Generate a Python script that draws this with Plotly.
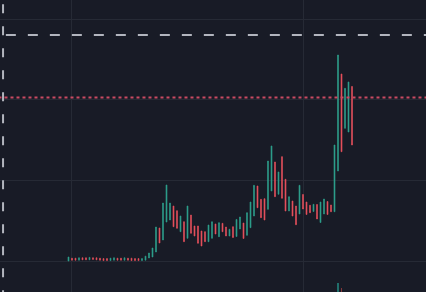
import plotly.graph_objects as go

# candle index (one per period)
idx = list(range(82))

opens = [
    0.00, 0.035, 0.035, 0.01, 0.04, 0.04, 0.015, 0.04, 0.04, 0.035,
    0.03, 0.03, 0.005, 0.01, 0.035, 0.035, 0.01, 0.035, 0.035, 0.03,
    0.03, 0.005, 0.01,
    0.037, 0.05, 0.112, 0.41, 0.261, 0.484, 0.509, 0.683, 0.625, 0.364,
    0.488, 0.282, 0.571, 0.435, 0.435, 0.373, 0.364, 0.24, 0.282, 0.46,
    0.302, 0.468, 0.422, 0.311, 0.426, 0.304, 0.398, 0.472, 0.319, 0.414,
    0.559, 0.932, 0.766, 0.774, 0.642, 0.87, 1.23, 0.829, 1.296, 1.015,
    0.621, 0.745, 0.683, 0.584, 0.826, 0.733, 0.692, 0.615, 0.702, 0.478,
    0.584, 0.739, 0.696, 0.612, 1.118, 2.323, 1.648, 1.602, 2.168,
]
closes = [
    0.05, 0.01, 0.01, 0.04, 0.015, 0.015, 0.045, 0.02, 0.015, 0.01,
    0.005, 0.005, 0.035, 0.04, 0.01, 0.01, 0.04, 0.01, 0.005, 0.005,
    0.005, 0.03, 0.06,
    0.099, 0.161, 0.422, 0.224, 0.72, 0.944, 0.72, 0.426, 0.406, 0.559,
    0.24, 0.683, 0.344, 0.311, 0.22, 0.186, 0.24, 0.447, 0.488, 0.335,
    0.476, 0.364, 0.311, 0.394, 0.292, 0.516, 0.547, 0.28, 0.6, 0.733,
    0.94, 0.662, 0.538, 0.509, 1.242, 1.429, 0.799, 1.106, 0.779, 0.621,
    0.799, 0.559, 0.451, 0.94, 0.646, 0.578, 0.6, 0.704, 0.522, 0.733,
    0.77, 0.578, 0.612, 1.441, 2.559, 1.358, 2.145, 2.224, 1.441,
]
highs = [max(o, c) for o, c in zip(opens, closes)]
lows = [min(o, c) for o, c in zip(opens, closes)]

# volume (only the spike near the breakout reaches into view)
volumes = [None] * 76 + [100.0, 100.95, 100.4, None, None, None]

upper_level = 2.807   # dashed grey level
alert_level = 2.03    # dotted red level
marker_x = -18.7      # dashed vertical marker

UP = "#2e9f8c"
DOWN = "#e5515c"
BG = "#181b26"
GRID = "#262a35"

fig = go.Figure()
fig.add_trace(go.Candlestick(
    x=idx, open=opens, high=highs, low=lows, close=closes,
    increasing=dict(line=dict(color=UP, width=0.6), fillcolor=UP),
    decreasing=dict(line=dict(color=DOWN, width=0.6), fillcolor=DOWN),
    whiskerwidth=0, showlegend=False, hoverinfo="skip",
))
fig.add_trace(go.Bar(
    x=idx, y=volumes, yaxis="y2", width=0.3,
    marker=dict(color=["rgba(38,166,154,0.6)"] * 78 + ["rgba(239,83,80,0.5)"] * 4, line=dict(width=0)),
    showlegend=False, hoverinfo="skip",
))

fig.add_shape(type="line", xref="x", yref="y", x0=-17.9, x1=110,
              y0=upper_level, y1=upper_level,
              line=dict(color="#b2b5be", width=2, dash="10px,12px"))
fig.add_shape(type="line", xref="x", yref="y", x0=-20, x1=110,
              y0=alert_level, y1=alert_level,
              line=dict(color="#c94a62", width=2, dash="dot"))
fig.add_shape(type="line", xref="x", yref="paper", x0=marker_x, x1=marker_x,
              y0=-0.1, y1=1.1,
              line=dict(color="#b2b5be", width=2, dash="9px,13px"))

fig.update_layout(
    width=426, height=292,
    margin=dict(l=0, r=0, t=0, b=0),
    paper_bgcolor=BG, plot_bgcolor=BG,
    xaxis=dict(range=[-19.57, 102.14], showticklabels=False, showgrid=True,
               gridcolor=GRID, gridwidth=1, tickvals=[0.9, 67], zeroline=False,
               rangeslider=dict(visible=False), showline=False, fixedrange=True),
    yaxis=dict(range=[-0.385, 3.242], showticklabels=False, showgrid=True,
               gridcolor=GRID, gridwidth=1, tickvals=[0, 1, 2, 3], zeroline=False,
               showline=False, fixedrange=True),
    yaxis2=dict(range=[100, 130], overlaying="y", visible=False, showgrid=False,
                fixedrange=True),
    bargap=0,
    boxgap=0.6,
)

fig.write_html("out.html", config={"displayModeBar": False})
